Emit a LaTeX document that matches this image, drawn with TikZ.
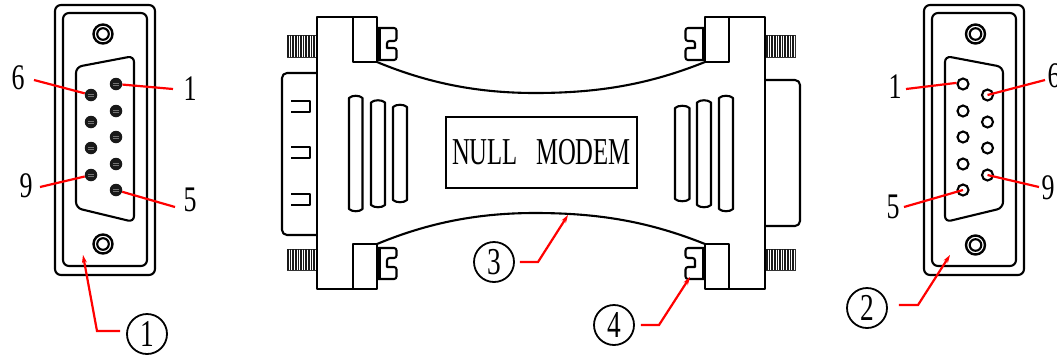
\documentclass[tikz,border=0pt]{standalone}
\usepackage{graphicx}
\usepackage{fontspec}
\setmainfont{Liberation Serif}
\usetikzlibrary{arrows.meta}
\newcommand{\nar}[2][36]{\scalebox{.72}[1]{\fontsize{#1}{#1}\selectfont #2}}
\tikzset{
  ln/.style={line width=2.1pt,black,line join=round},
  leader/.style={line width=2.2pt,red,line join=miter},
  leadarrow/.style={leader,-{Stealth[length=8pt,width=5pt]}},
  pinlabel/.style={inner sep=0pt,anchor=center},
  callout/.style={circle,draw,line width=1.8pt,minimum size=40pt,inner sep=0pt},
  pinb/.style={circle,fill=black!90,minimum size=12.5pt,inner sep=0pt},
  pinw/.style={circle,draw,line width=2.1pt,fill=white,minimum size=11pt,inner sep=0pt},
}
\begin{document}
\begin{tikzpicture}[x=1pt,y=-1pt]
\useasboundingbox (0,0) rectangle (1057,354);
\fill[white] (0,0) rectangle (1057,354);

% ---------- left front view
\draw[ln,rounded corners=6pt] (55,5) rectangle (155,275);
\draw[ln,rounded corners=6pt] (63,13) rectangle (147,266);
\foreach \y in {34,244}{
  \draw[ln,line width=2.4pt] (103,\y) circle (9.5);
  \draw[ln] (103,\y) circle (5.8);
}
\draw[ln,rounded corners=6pt] (76,67) -- (134,56) -- (134,222) -- (76,208) -- cycle;
\node[pinb] (l1) at (116,84) {};
\node[pinb] (l2) at (116,111) {};
\node[pinb] (l3) at (116,137) {};
\node[pinb] (l4) at (116,164) {};
\node[pinb] (l5) at (116,190) {};
\node[pinb] (l6) at (91,95) {};
\node[pinb] (l7) at (91,122) {};
\node[pinb] (l8) at (91,148) {};
\node[pinb] (l9) at (91,175) {};
\foreach \n in {l1,l2,l3,l4,l5,l6,l7,l8,l9}{
  \draw[black!55,line width=.5pt] ([shift={(-3,-.5)}]\n.center) -- ++(6,0) ([shift={(-3,1.5)}]\n.center) -- ++(6,0);
}
\node[pinlabel] (tl6) at (18,78) {\nar{6}};
\node[pinlabel] (tl1) at (190,89) {\nar{1}};
\node[pinlabel] (tl9) at (26,186) {\nar{9}};
\node[pinlabel] (tl5) at (190,200) {\nar{5}};
\coordinate (al6) at (34,80);
\coordinate (al1) at (173,89);
\coordinate (al9) at (40,187);
\coordinate (al5) at (175,207);
\draw[leader] (al6) -- (l6);
\draw[leader] (al1) -- (l1);
\draw[leader] (al9) -- (l9);
\draw[leader] (al5) -- (l5);

% ---------- right front view
\draw[ln,rounded corners=6pt] (924,5) rectangle (1024,275);
\draw[ln,rounded corners=6pt] (932,13) rectangle (1016,266);
\foreach \y in {34,245}{
  \draw[ln,line width=2.4pt] (975.5,\y) circle (9.5);
  \draw[ln] (975.5,\y) circle (5.8);
}
\draw[ln,rounded corners=6pt] (945,56) -- (1003,67) -- (1003,208) -- (945,222) -- cycle;
\node[pinw] (r1) at (963,84) {};
\node[pinw] (r2) at (963,111) {};
\node[pinw] (r3) at (963,137) {};
\node[pinw] (r4) at (963,164) {};
\node[pinw] (r5) at (963,190) {};
\node[pinw] (r6) at (987.5,95) {};
\node[pinw] (r7) at (987.5,122) {};
\node[pinw] (r8) at (987.5,148) {};
\node[pinw] (r9) at (987.5,175) {};
\node[pinlabel] (tr1) at (895,87) {\nar{1}};
\node[pinlabel] (tr5) at (893,207) {\nar{5}};
\node[pinlabel] (tr6) at (1054,76) {\nar{6}};
\node[pinlabel] (tr9) at (1048,188) {\nar{9}};
\coordinate (ar1) at (906,89);
\coordinate (ar5) at (904,207);
\coordinate (ar6) at (1045,80);
\coordinate (ar9) at (1039,187);
\draw[leader] (ar1) -- (r1.170);
\draw[leader] (ar5) -- (r5.center);
\draw[leader] (ar6) -- (r6.center);
\draw[leader] (ar9) -- (r9.center);

% ---------- side view: threads
\foreach \xa/\xb/\ya/\yb in {287/317/35/57, 287/317/249/270, 766/795/35/57, 766/795/249/270}{
  \draw[line width=1pt,black!80] (\xa,\ya) rectangle (\xb,\yb);
  \pgfmathsetmacro{\xs}{\xa+1}
  \pgfmathsetmacro{\xt}{\xa+3.6}
  \foreach \x in {\xs,\xt,...,\xb}{
    \draw[line width=1.5pt,black!90] (\x,\ya) -- (\x,\yb);
  }
}

% ---------- side view: shells
\draw[ln,rounded corners=5pt] (317,73) -- (282,73) -- (282,235) -- (317,235);
\draw[ln,rounded corners=5pt] (765,80) -- (800,80) -- (800,226) -- (765,226);
\foreach \y in {101,147,194}{
  \draw[ln] (291,\y) -- (310,\y) -- (310,\y+11) -- (291,\y+11);
}

% ---------- side view: body
\draw[ln] (377,62) -- (353,62) -- (353,17) -- (317,17) -- (317,289) -- (353,289) -- (353,244) -- (377,244);
\draw[ln] (353,17) -- (377,17) -- (377,62);
\draw[ln] (353,289) -- (377,289) -- (377,244);
\draw[ln] (705,62) -- (729,62) -- (729,17) -- (765,17) -- (765,289) -- (729,289) -- (729,244) -- (705,244);
\draw[ln] (729,17) -- (705,17) -- (705,62);
\draw[ln] (729,289) -- (705,289) -- (705,244);
\draw[ln] (377,62) .. controls (430,84) and (480,93) .. (535,93) .. controls (600,93) and (650,84) .. (705,62);
\draw[ln] (377,244) .. controls (430,222) and (480,213) .. (535,213) .. controls (600,213) and (650,222) .. (705,244);

% ---------- side view: clips
\foreach \ya/\yb/\yc/\yd in {28/41/48/60, 248/258/267/279}{
  \draw[ln,rounded corners=2.5pt] (378,\ya) -- (396.5,\ya) -- (396.5,\yb) -- (387,\yb) [sharp corners] -- (387,\yc) [rounded corners=2.5pt] -- (396.5,\yc) -- (396.5,\yd) -- (378,\yd);
  \draw[line width=4pt] (378.5,\ya) -- (378.5,\yd);
  \draw[ln,rounded corners=2.5pt] (704,\ya) -- (685.5,\ya) -- (685.5,\yb) -- (695,\yb) [sharp corners] -- (695,\yc) [rounded corners=2.5pt] -- (685.5,\yc) -- (685.5,\yd) -- (704,\yd);
  \draw[line width=4pt] (703.5,\ya) -- (703.5,\yd);
}

% ---------- side view: slots
\foreach \xa/\xb/\ya/\yb in {349/362.5/96/211, 371/385/100.5/207, 393/407/105/202, 675/689.5/106/201, 697/711/100.5/207, 719/733/96/211}{
  \draw[ln] (\xa,\ya+2) .. controls (\xa+3,\ya-1) and (\xb-3,\ya-1) .. (\xb,\ya+2) -- (\xb,\yb-2) .. controls (\xb-3,\yb+1) and (\xa+3,\yb+1) .. (\xa,\yb-2) -- cycle;
}

% ---------- side view: plate
\node[draw,line width=2.1pt,minimum width=191pt,minimum height=71pt,inner sep=0pt] (plate) at (541.5,152.5)
  {\scalebox{.65}[1]{\fontsize{38}{38}\selectfont NULL\hspace{28pt}MODEM}};

% ---------- callouts
\node[callout] (c1) at (147,334) {\nar[38]{1}};
\node[callout] (c2) at (867,308) {\nar[38]{2}};
\node[callout] (c3) at (494,262) {\nar[38]{3}};
\node[callout] (c4) at (614,325) {\nar[38]{4}};
\coordinate (t1) at (83,255);
\coordinate (t2) at (950,255);
\coordinate (t3) at (568,215);
\coordinate (t4) at (690,277);
\draw[leadarrow] ([shift={(-6,-3)}]c1.west) -- (97,331) -- (t1);
\draw[leadarrow] ([shift={(11,-3)}]c2.east) -- (918,305) -- (t2);
\draw[leadarrow] ([xshift=5pt]c3.east) -- (538,262) -- (t3);
\draw[leadarrow] ([xshift=6pt]c4.east) -- (659,325) -- (t4);
\end{tikzpicture}
\end{document}
